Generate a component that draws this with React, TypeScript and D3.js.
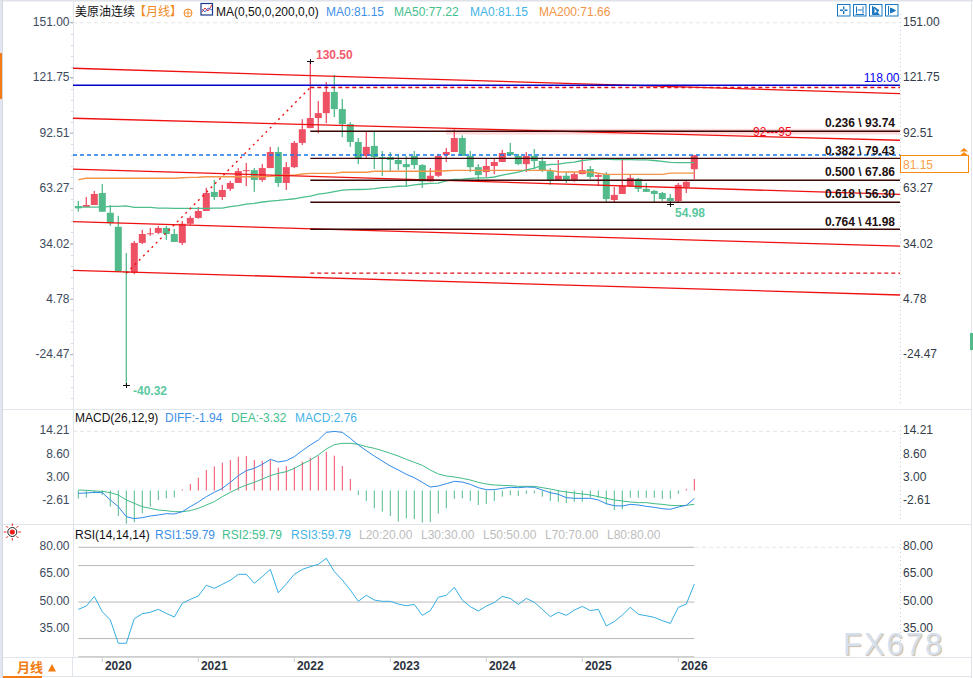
import * as d3 from 'd3';

// monthly bars, Oct 2019 to Mar 2026
const opens = [54.25,53.75,54.8,61.15,50.7,43.3,19.7,19.0,34.8,39.5,40.1,42.7,39.5,34.8,44.9,48.0,51.65,61.75,59.05,63.35,66.45,73.1,73.2,68.05,74.3,82.8,66.45,74.8,87.6,95.4,100.7,103.3,114.5,105.45,97.5,88.1,80.7,86.0,80.1,80.1,78.6,76.4,80.7,75.9,67.25,70.25,81.2,82.8,90.2,80.7,74.8,72.2,75.4,77.5,82.8,80.7,76.4,80.7,78.0,72.7,68.05,70.25,68.05,71.1,73.8,69.65,71.1,57.45,60.65,64.85,68.65,63.35,62.25,61.15,58.55,56.95,64.35,73.7];
const highs = [56.95,59.05,62.25,65.95,54.8,49.1,29.5,35.8,41.7,42.7,43.8,43.8,42.2,46.4,49.1,53.75,63.85,68.05,65.45,67.55,74.3,77.0,74.3,76.4,85.5,85.5,77.5,88.6,100.1,130.5,109.7,119.8,123.5,110.8,98.5,90.2,93.4,93.4,83.3,82.8,81.2,80.7,83.3,76.4,74.3,81.8,84.9,94.8,91.6,83.3,76.4,79.1,79.6,83.9,87.6,81.8,82.8,84.4,80.1,74.3,78.6,72.2,72.2,79.1,75.4,71.1,72.2,64.35,78.6,70.75,69.15,66.45,62.75,61.65,60.65,66.45,67.55,81.15];
const lows = [51.25,53.75,54.8,51.25,43.8,19.7,-40.32,18.3,34.2,38.5,39.5,36.4,35.3,33.7,44.3,47.5,51.65,57.45,57.45,62.25,66.45,64.85,61.75,67.05,74.3,64.35,62.75,74.3,86.5,95.4,92.7,98.0,101.2,90.6,85.5,76.4,79.6,73.8,70.1,72.7,73.2,64.35,73.8,63.85,67.25,69.65,77.5,82.8,80.7,72.2,68.05,69.65,71.1,77.5,80.7,75.9,72.2,73.8,72.2,65.45,68.05,66.45,67.05,71.1,68.65,64.95,56.25,56.25,60.65,64.35,61.65,61.75,56.35,56.95,54.98,56.35,61.15,68.4];
const closes = [53.05,54.8,60.65,51.25,45.2,19.7,19.2,34.8,39.5,39.9,42.7,39.5,35.3,44.9,48.0,51.65,61.15,59.05,62.75,66.45,72.7,73.2,68.05,74.3,82.8,66.45,74.8,87.6,94.8,100.7,103.3,114.5,105.45,97.5,88.1,79.6,85.5,80.1,79.6,78.6,76.4,74.8,75.9,67.25,70.25,80.7,82.8,90.2,80.7,74.8,70.6,75.4,77.5,82.3,81.2,76.4,80.7,78.0,73.2,68.05,70.25,68.05,71.1,73.2,69.65,70.6,57.95,60.15,64.85,69.15,63.35,61.75,60.65,57.95,56.95,65.45,67.05,81.15];

const ma50 = [53.7,53.7,53.7,53.7,54.1,54.1,54.3,53.6,53.6,53.6,53.2,53.2,53.0,53.0,53.0,53.0,53.0,53.2,53.2,53.9,54.5,55.3,55.7,56.4,56.9,57.2,57.7,58.1,58.8,59.5,60.6,61.1,61.9,62.7,62.9,63.0,63.1,63.5,64.0,64.3,64.7,64.8,65.4,65.9,66.2,66.4,67.5,68.3,68.5,68.8,69.1,69.1,69.6,70.6,71.4,72.2,73.3,74.3,75.7,76.2,76.4,77.0,77.5,78.3,78.8,79.1,79.1,78.8,78.9,78.8,78.6,78.6,78.3,77.8,77.3,77.22,77.22,77.22];
const ma200 = [68.2,68.9,68.9,68.9,68.9,68.9,68.9,68.9,68.9,68.9,68.9,68.9,68.9,69.2,69.4,69.5,69.7,69.7,69.7,69.7,69.7,69.7,69.7,69.7,69.9,70.2,70.6,70.6,71.2,71.5,71.5,71.5,71.5,72.1,72.1,72.1,72.1,72.6,72.6,72.6,72.6,72.6,72.6,72.6,72.6,72.6,72.9,73.1,73.1,73.1,73.1,73.1,73.1,73.1,73.1,73.1,73.1,73.1,73.1,73.1,72.4,72.2,72.2,72.2,72.2,71.6,71.0,71.0,71.0,71.0,71.0,71.0,71.0,71.0,71.66,71.66,71.66,71.66];

const diff = [-0.68,-0.6,-0.44,-0.52,-2.28,-3.89,-6.29,-6.77,-6.53,-6.13,-5.89,-5.57,-5.65,-5.09,-3.89,-2.76,-1.48,-0.44,0.52,1.96,3.57,4.77,5.33,6.29,7.49,6.85,7.17,8.13,9.58,10.94,12.14,13.98,14.21,13.98,12.54,10.94,9.58,8.29,7.09,5.89,4.93,3.89,3.08,1.96,0.84,1.08,1.64,2.2,2.04,1.48,0.68,0.2,0.2,0.52,0.76,0.68,0.84,0.76,0.12,-0.52,-0.92,-1.72,-1.88,-1.88,-1.88,-2.28,-3.17,-3.65,-3.73,-3.33,-3.49,-3.81,-4.05,-4.37,-4.53,-3.97,-3.57,-1.94];
const dea = [0.12,0.04,-0.12,-0.2,-0.52,-1.08,-2.28,-3.08,-3.89,-4.29,-4.69,-4.85,-5.09,-5.09,-4.85,-4.29,-3.49,-2.68,-1.48,-0.44,0.52,1.32,1.96,2.76,3.57,4.13,4.53,5.33,6.37,7.33,8.53,9.98,11.02,11.34,11.34,11.1,10.54,10.14,9.58,8.93,8.29,7.49,6.77,6.05,4.93,3.97,3.49,3.25,2.92,2.52,1.96,1.56,1.32,1.24,1.16,1.0,1.0,1.0,0.68,0.36,-0.04,-0.36,-0.6,-0.84,-1.08,-1.48,-1.88,-2.28,-2.52,-2.76,-2.92,-2.92,-3.17,-3.33,-3.57,-3.65,-3.57,-3.32];
const macdHist = [-1.96,-1.72,-0.68,-1.08,-3.89,-6.13,-7.97,-7.65,-5.49,-3.89,-2.28,-1.88,-1.64,0.28,1.56,3.08,4.93,5.81,6.69,7.33,8.13,8.29,7.33,7.09,7.33,5.49,5.89,5.57,6.93,7.89,8.29,9.33,8.37,5.89,2.76,-1.08,-2.52,-4.29,-5.09,-6.13,-7.49,-6.69,-6.85,-7.73,-7.57,-5.57,-4.29,-2.04,-1.88,-2.52,-3.49,-3.25,-2.52,-1.48,-1.08,-1.32,-0.84,-0.68,-1.48,-2.52,-2.76,-3.0,-2.68,-2.68,-1.72,-1.72,-3.33,-4.69,-4.53,-1.72,-1.72,-1.72,-1.72,-2.04,-2.04,-0.84,0.4,2.76];
const rsi = [46,47.8,53.1,44.7,40.2,27.4,27.4,40.9,43.6,44.4,46,43.8,41.8,49.3,51.5,53.3,59.2,57.5,59.7,61.9,65.2,65.2,60.3,63.9,67.9,55.1,59.9,65.2,67.9,69.4,70.7,74,66.7,62.1,56.6,50.4,53.7,51.1,50.4,50.4,48.9,48,48.7,42.7,45.3,52.6,53.7,58.1,51.1,47.5,45.1,47.8,49.7,53.1,52,48.7,52,49.9,46,42,44.4,42.7,45.6,47.6,45.3,46,36.9,39.3,42.9,47.1,43.3,42.5,41.6,39.8,38.3,47.1,48.9,59.79];

const priceTicks = ['151.00','121.75','92.51','63.27','34.02','4.78','-24.47'];
const macdTicks = ['14.21','8.60','3.00','-2.61'];
const rsiTicks = ['80.00','65.00','50.00','35.00'];
const rsiLevels = [80, 70, 50, 30, 20];
const yearLabels = ['2020','2021','2022','2023','2024','2025','2026'];
const yearBars = [3, 15, 27, 39, 51, 63, 75];

const fibLevels = [93.74, 79.43, 67.86, 56.30, 41.98];
const fibNames = ['0.236 \\ 93.74', '0.382 \\ 79.43', '0.500 \\ 67.86', '0.618 \\ 56.30', '0.764 \\ 41.98'];
const fibEnds = [116.85, 18.8];
const trendStart = [127, 100.6, 73.8, 46, 20.3];
const trendEnd = [113.6, 89, 60.4, 33.1, 7.3];

const RED = '#ee5064';
const GREEN = '#53ba8b';
const FONT = '"Liberation Sans", "Noto Sans CJK SC", sans-serif';

const left = 73;
const right = 900;

const x = d3.scaleLinear().domain([0, 77]).range([78.3, 694.3]);
const y = d3.scaleLinear().domain([151, -40.32]).range([22.8, 385.2]);
const yMacd = d3.scaleLinear().domain([0, 14.21]).range([490.5, 431.4]);
const yRsi = d3.scaleLinear().domain([80, 20]).range([547.3, 656.8]);

const lineOf = (scale: d3.ScaleLinear<number, number>) =>
  d3.line<number>().x((_, i) => x(i)).y(d => scale(d));

function Legend({ items, top }: { items: [string, number, string][]; top: number }) {
  return (
    <g fontSize={12}>
      {items.map(([label, px, color]) => (
        <text key={label + px} x={px} y={top} fill={color}>{label}</text>
      ))}
    </g>
  );
}

function Cross({ i, value }: { i: number; value: number }) {
  const cx = x(i);
  const cy = y(value);
  return (
    <g stroke="#111" strokeWidth={1} shapeRendering="crispEdges">
      <line x1={cx - 3.5} x2={cx + 3.5} y1={cy} y2={cy} />
      <line x1={cx} x2={cx} y1={cy - 2.5} y2={cy + 2.5} />
    </g>
  );
}

export default function App() {
  const minorTicks = d3.range(0, 7).flatMap(k => d3.range(0, 5).map(m => 23 + k * 55.3 + m * 11));

  return (
    <div style={{ position: 'absolute', left: 0, top: 0 }}>
      <svg width={973} height={678} style={{ display: 'block', background: '#fff' }} fontFamily={FONT}>
        {/* frame */}
        <rect x={0} y={0} width={2} height={678} fill="#e3e6ef" />
        <rect x={0} y={53} width={2} height={46} fill="#f57c14" />
        <rect x={0} y={0} width={973} height={1.5} fill="#dfe2e8" />
        <g stroke="#dfe5ea" strokeWidth={1} shapeRendering="crispEdges">
          <line x1={left} x2={left} y1={0} y2={657} />
          <line x1={2.5} x2={2.5} y1={0} y2={678} stroke="#d3d9df" />
          <line x1={3} x2={971} y1={409.5} y2={409.5} />
          <line x1={3} x2={971} y1={524.5} y2={524.5} />
          <line x1={3} x2={971} y1={657.5} y2={657.5} />
          <line x1={3} x2={971} y1={676.5} y2={676.5} />
          <line x1={971} x2={971} y1={0} y2={678} />
          <line x1={72} x2={72} y1={657} y2={677} />
        </g>
        <rect x={970} y={333} width={3} height={17} fill={GREEN} />
        <rect x={3} y={676} width={39} height={2} fill="#f57c14" />

        {/* grid dashes and right axis */}
        <line x1={left} x2={right} y1={22.8} y2={22.8} stroke="#e6e6e6" strokeDasharray="4 3" />
        <line x1={left} x2={right} y1={yMacd(14.21)} y2={yMacd(14.21)} stroke="#e6e6e6" strokeDasharray="4 3" />
        <line x1={695} x2={right} y1={yRsi(80)} y2={yRsi(80)} stroke="#e6e6e6" strokeDasharray="4 3" />
        <g stroke="#c8ccd2" strokeDasharray="1 3">
          <line x1={right + 0.5} x2={right + 0.5} y1={14} y2={405} />
          <line x1={right + 0.5} x2={right + 0.5} y1={426} y2={522} />
          <line x1={right + 0.5} x2={right + 0.5} y1={540} y2={650} />
        </g>
        <g stroke="#d6dbe1" shapeRendering="crispEdges">
          {minorTicks.map(t => (
            <line key={t} x1={left - 2} x2={left} y1={t} y2={t} />
          ))}
        </g>

        {/* band 92-95 */}
        <rect x={446} y={y(95)} width={right - 446} height={y(92) - y(95)} fill="#fdd9d9" />

        {/* candles */}
        {closes.map((c, i) => {
          const up = c > opens[i] || (c === opens[i] && i > 0);
          const color = up ? RED : GREEN;
          const top = y(Math.max(opens[i], c));
          const bottom = y(Math.min(opens[i], c));
          return (
            <g key={i} fill={color} stroke="none">
              <rect x={x(i) - 0.65} width={1.3} y={y(highs[i])} height={y(lows[i]) - y(highs[i])} />
              <rect x={x(i) - 3.5} width={7} y={top} height={Math.max(bottom - top, 1)} />
            </g>
          );
        })}

        {/* moving averages */}
        <path d={lineOf(y)(ma200) || ''} fill="none" stroke="#f39446" strokeWidth={1.4} />
        <path d={lineOf(y)(ma50) || ''} fill="none" stroke="#4cbe8c" strokeWidth={1.3} />

        {/* trend channel */}
        <g stroke="#f01010" strokeWidth={1.3}>
          {trendStart.map((s, k) => (
            <line key={k} x1={left} x2={right} y1={y(s)} y2={y(trendEnd[k])} />
          ))}
        </g>

        {/* levels */}
        <line x1={left} x2={right} y1={y(118)} y2={y(118)} stroke="#0000c8" strokeWidth={1.5} />
        <line x1={left} x2={right} y1={y(81.15)} y2={y(81.15)} stroke="#1578ea" strokeWidth={1.5} strokeDasharray="4 3" />
        <line x1={x(6)} x2={x(29)} y1={y(fibEnds[1])} y2={y(fibEnds[0])} stroke="#f01010" strokeWidth={1.4} strokeDasharray="2 4" />
        {fibEnds.map(v => (
          <line key={v} x1={x(29)} x2={right} y1={y(v)} y2={y(v)} stroke="#e0101a" strokeWidth={1.3} strokeDasharray="4 3" />
        ))}
        {fibLevels.map(v => (
          <line key={v} x1={x(29)} x2={right} y1={y(v)} y2={y(v)} stroke="#3a0505" strokeWidth={1.4} />
        ))}

        <Cross i={29} value={130.5} />
        <Cross i={6} value={-40.32} />
        <Cross i={74} value={54.98} />

        {/* level labels */}
        <g fontSize={12} fontWeight="bold" textAnchor="end" fill="#1c1010">
          {fibNames.map((name, k) => (
            <text key={name} x={895} y={y(fibLevels[k]) - 3.8}>{name}</text>
          ))}
        </g>
        <text x={899.5} y={82} fontSize={12} textAnchor="end" fill="#0000f0">118.00</text>
        <text x={753} y={136} fontSize={12} fill="#ee0c1c">92---95</text>
        <g fontSize={12} fontWeight="bold">
          <text x={316} y={59} fill="#f2596c">130.50</text>
          <text x={675} y={217} fill="#5cc8a0">54.98</text>
          <text x={133} y={395} fill="#5cc8a0">-40.32</text>
        </g>

        {/* header */}
        <text x={75} y={15.5} fontSize={12} fill="#111">美原油连续</text>
        <text x={134} y={15.5} fontSize={12} fill="#f08a24">【月线】</text>
        <circle cx={188} cy={13} r={4} fill="none" stroke="#f08a24" />
        <path d="M184 13H192M188 9V17" stroke="#f08a24" strokeWidth={0.8} />
        <rect x={201} y={3.5} width={11.5} height={11.5} fill="#fff" stroke="#1c3a8c" strokeWidth={1.2} />
        <path d="M202 12L205 8L208 11L212 5" fill="none" stroke="#e02828" />
        <path d="M202 9L205 12L208 8L212 10" fill="none" stroke="#2858d0" strokeWidth={0.8} />
        <text x={216} y={15.5} fontSize={12} fill="#111">MA(0,50,0,200,0,0)</text>
        <Legend
          top={15.5}
          items={[
            ['MA0:81.15', 326, '#3f8fe6'],
            ['MA50:77.22', 394, '#44c08e'],
            ['MA0:81.15', 470, '#45b4e6'],
            ['MA200:71.66', 539, '#f39446'],
          ]}
        />

        {/* toolbar icons */}
        {[837.5, 853.5, 869.5, 885.5].map((ix, k) => (
          <g key={ix} fill="none" stroke="#1a78c2" strokeWidth={1}>
            <rect x={ix} y={4.5} width={12.5} height={11.5} />
            {k === 0 && <path d={`M${ix + 6.2} 6.5v3M${ix + 6.2} 11v3M${ix + 2.5} 10.2h3M${ix + 7} 10.2h3`} strokeWidth={1.4} />}
            {k === 1 && <path d={`M${ix + 3} 6.5v7M${ix + 9.5} 6.5v7M${ix + 4} 10h4.5M${ix + 2} 14.5h8.5`} />}
            {k === 2 && <path d={`M${ix + 3} 6v8.5h7M${ix + 4.5} 7l5 3.5l-5 3.5z`} fill="#1a78c2" />}
            {k === 3 && <path d={`M${ix + 3} 6v9M${ix + 5} 8v5l5 -2.5z`} fill="#1a78c2" />}
          </g>
        ))}

        {/* price axes */}
        <g fontSize={12}>
          {priceTicks.map(t => (
            <g key={t}>
              <text x={69.5} y={y(+t) + 3.2} textAnchor="end" fill="#3d4a5c">{t}</text>
              <text x={903} y={y(+t) + 3.2} fill="#333c49">{t}</text>
              <line x1={left - 3} x2={left} y1={y(+t) - 0.5} y2={y(+t) - 0.5} stroke="#a8b0ba" />
            </g>
          ))}
        </g>
        <rect x={900.5} y={155.5} width={68} height={17} fill="#fff" stroke="#f58a10" strokeWidth={1} />
        <text x={903} y={168.5} fontSize={12} fill="#f5a14a">81.15</text>
        <path d="M960 151.5L964 148L968 151.5ZM960 155.5L964 152L968 155.5Z" fill="#f58a10" />

        {/* MACD */}
        <text x={75} y={422} fontSize={12} fill="#111">MACD(26,12,9)</text>
        <Legend
          top={422}
          items={[
            ['DIFF:-1.94', 165, '#3f8fe6'],
            ['DEA:-3.32', 231, '#44c08e'],
            ['MACD:2.76', 295, '#45b4e6'],
          ]}
        />
        <g strokeWidth={1}>
          {macdHist.map((v, i) => (
            <line key={i} x1={x(i)} x2={x(i)} y1={yMacd(0)} y2={yMacd(v)} stroke={v > 0 ? RED : GREEN} />
          ))}
        </g>
        <path d={lineOf(yMacd)(dea) || ''} fill="none" stroke="#3fbb86" strokeWidth={1} />
        <path d={lineOf(yMacd)(diff) || ''} fill="none" stroke="#2f8ae8" strokeWidth={1} />
        <g fontSize={12}>
          {macdTicks.map(t => (
            <g key={t}>
              <text x={69.5} y={yMacd(+t) + 2.8} textAnchor="end" fill="#3d4a5c">{t}</text>
              <text x={903} y={yMacd(+t) + 2.8} fill="#333c49">{t}</text>
            </g>
          ))}
        </g>

        {/* RSI */}
        <g stroke="#ef1b1b" strokeWidth={1}>
          {d3.range(0, 8).map(k => (
            <line
              key={k}
              x1={12.3 + 6 * Math.cos((k * Math.PI) / 4)}
              x2={12.3 + 8.5 * Math.cos((k * Math.PI) / 4)}
              y1={532 + 6 * Math.sin((k * Math.PI) / 4)}
              y2={532 + 8.5 * Math.sin((k * Math.PI) / 4)}
            />
          ))}
        </g>
        <circle cx={12.3} cy={532} r={4.5} fill="#fff" stroke="#222" />
        <circle cx={12.3} cy={532} r={2.6} fill="#ef1b1b" />
        <text x={75} y={538.5} fontSize={12} fill="#111">RSI(14,14,14)</text>
        <Legend
          top={538.5}
          items={[
            ['RSI1:59.79', 155, '#3f8fe6'],
            ['RSI2:59.79', 222, '#44c08e'],
            ['RSI3:59.79', 291, '#45b4e6'],
            ['L20:20.00', 359, '#bcbcbc'],
            ['L30:30.00', 421, '#bcbcbc'],
            ['L50:50.00', 483, '#bcbcbc'],
            ['L70:70.00', 545, '#bcbcbc'],
            ['L80:80.00', 607, '#bcbcbc'],
          ]}
        />
        <g stroke="#b9b9b9" strokeWidth={1}>
          {rsiLevels.map(v => (
            <line key={v} x1={x(0)} x2={x(77)} y1={yRsi(v)} y2={yRsi(v)} />
          ))}
        </g>
        <path d={lineOf(yRsi)(rsi) || ''} fill="none" stroke="#35aee2" strokeWidth={1} />
        <g fontSize={12}>
          {rsiTicks.map(t => (
            <g key={t}>
              <text x={69.5} y={yRsi(+t) + 2.8} textAnchor="end" fill="#3d4a5c">{t}</text>
              <text x={903} y={yRsi(+t) + 2.8} fill="#333c49">{t}</text>
            </g>
          ))}
        </g>

        {/* time axis */}
        {yearLabels.map((label, k) => (
          <g key={label}>
            <line x1={x(yearBars[k])} x2={x(yearBars[k])} y1={657} y2={662} stroke="#c8ccd2" />
            <text x={x(yearBars[k] + 2)} y={670} fontSize={12} fontWeight="bold" textAnchor="middle" fill="#2c3340">{label}</text>
          </g>
        ))}
        <text x={17} y={671.5} fontSize={13} fontWeight="bold" fill="#f07c12">月线</text>
        <path d="M48 671.5L52 664L56 671.5Z" fill="#f07c12" />

        {/* watermark */}
        <text x={843} y={655} fontSize={31} letterSpacing={2} fill="#d5e0ee" style={{ textShadow: '1px 1px 1px #c9b8a8' }}>FX678</text>
      </svg>
    </div>
  );
}
